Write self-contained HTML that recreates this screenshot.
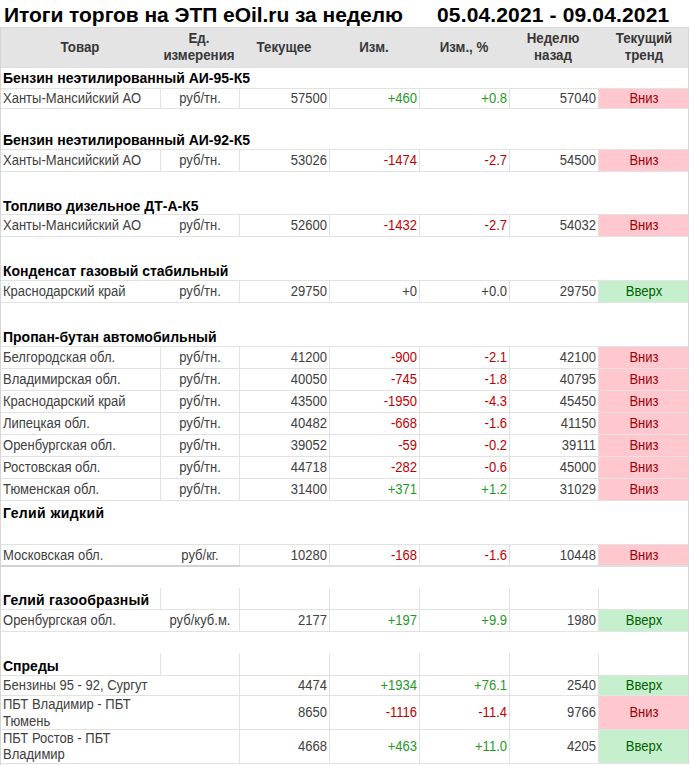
<!DOCTYPE html>
<html><head><meta charset="utf-8"><style>
html,body{margin:0;padding:0;background:#fff;}
body{width:690px;height:765px;overflow:hidden;position:relative;font-family:"Liberation Sans",sans-serif;}
i{position:absolute;display:block;}
b.t{position:absolute;white-space:nowrap;font-weight:normal;font-size:13px;line-height:15px;color:#404040;}
</style></head><body>
<b class="t" style="top:3px;font-size:21px;line-height:23px;left:4px;font-weight:bold;color:#000;letter-spacing:-0.05px;">Итоги торгов на ЭТП eOil.ru за неделю</b>
<b class="t" style="top:3px;font-size:21px;line-height:23px;left:437px;font-weight:bold;color:#000;letter-spacing:0.15px;">05.04.2021 - 09.04.2021</b>
<i style="left:0px;top:27px;width:689px;height:41px;background:#e4e4e4"></i>
<i style="left:0px;top:27px;width:689px;height:1px;background:#d8d8d8"></i>
<i style="left:0px;top:67px;width:689px;height:1px;background:#e0e0e0"></i>
<b class="t" style="top:39px;font-size:14px;line-height:16px;left:-70px;width:300px;text-align:center;font-weight:bold;color:#383838;transform:scaleX(0.95);transform-origin:center 0;">Товар</b>
<b class="t" style="top:39px;font-size:14px;line-height:16px;left:134px;width:300px;text-align:center;font-weight:bold;color:#383838;transform:scaleX(0.95);transform-origin:center 0;">Текущее</b>
<b class="t" style="top:39px;font-size:14px;line-height:16px;left:224px;width:300px;text-align:center;font-weight:bold;color:#383838;transform:scaleX(0.95);transform-origin:center 0;">Изм.</b>
<b class="t" style="top:39px;font-size:14px;line-height:16px;left:314px;width:300px;text-align:center;font-weight:bold;color:#383838;transform:scaleX(0.95);transform-origin:center 0;">Изм., %</b>
<b class="t" style="top:30px;font-size:14px;line-height:16px;left:49px;width:300px;text-align:center;font-weight:bold;color:#383838;transform:scaleX(0.95);transform-origin:center 0;">Ед.</b>
<b class="t" style="top:46.5px;font-size:14px;line-height:16px;left:49px;width:300px;text-align:center;font-weight:bold;color:#383838;transform:scaleX(0.95);transform-origin:center 0;">измерения</b>
<b class="t" style="top:30px;font-size:14px;line-height:16px;left:402.5px;width:300px;text-align:center;font-weight:bold;color:#383838;transform:scaleX(0.95);transform-origin:center 0;">Неделю</b>
<b class="t" style="top:46.5px;font-size:14px;line-height:16px;left:402.5px;width:300px;text-align:center;font-weight:bold;color:#383838;transform:scaleX(0.95);transform-origin:center 0;">назад</b>
<b class="t" style="top:30px;font-size:14px;line-height:16px;left:493.5px;width:300px;text-align:center;font-weight:bold;color:#383838;transform:scaleX(0.95);transform-origin:center 0;">Текущий</b>
<b class="t" style="top:46.5px;font-size:14px;line-height:16px;left:493.5px;width:300px;text-align:center;font-weight:bold;color:#383838;transform:scaleX(0.95);transform-origin:center 0;">тренд</b>
<b class="t" style="top:70px;font-size:14px;line-height:16px;left:3px;font-weight:bold;color:#000;">Бензин неэтилированный АИ-95-К5</b>
<i style="left:0px;top:88px;width:689px;height:1px;background:#e2e2e2"></i>
<i style="left:160px;top:89px;width:1px;height:19px;background:#e2e2e2"></i>
<i style="left:239px;top:89px;width:1px;height:19px;background:#e2e2e2"></i>
<i style="left:329px;top:89px;width:1px;height:19px;background:#e2e2e2"></i>
<i style="left:419px;top:89px;width:1px;height:19px;background:#e2e2e2"></i>
<i style="left:509px;top:89px;width:1px;height:19px;background:#e2e2e2"></i>
<i style="left:598px;top:89px;width:1px;height:19px;background:#e2e2e2"></i>
<i style="left:0px;top:108px;width:689px;height:1px;background:#e2e2e2"></i>
<i style="left:599px;top:89px;width:89px;height:19px;background:#ffc7ce"></i>
<b class="t" style="top:90px;font-size:14px;line-height:16px;left:3px;transform:scaleX(0.93);transform-origin:left 0;">Ханты-Мансийский АО</b>
<b class="t" style="top:90px;font-size:14px;line-height:16px;left:49.5px;width:300px;text-align:center;transform:scaleX(0.93);transform-origin:center 0;">руб/тн.</b>
<b class="t" style="top:90px;font-size:14px;line-height:16px;left:26.5px;width:300px;text-align:right;transform:scaleX(0.93);transform-origin:right 0;">57500</b>
<b class="t" style="top:90px;font-size:14px;line-height:16px;left:116.5px;width:300px;text-align:right;color:#1f9a1f;transform:scaleX(0.93);transform-origin:right 0;">+460</b>
<b class="t" style="top:90px;font-size:14px;line-height:16px;left:206.5px;width:300px;text-align:right;color:#1f9a1f;transform:scaleX(0.93);transform-origin:right 0;">+0.8</b>
<b class="t" style="top:90px;font-size:14px;line-height:16px;left:295.5px;width:300px;text-align:right;transform:scaleX(0.93);transform-origin:right 0;">57040</b>
<b class="t" style="top:90px;font-size:14px;line-height:16px;left:493.5px;width:300px;text-align:center;color:#9c0006;transform:scaleX(0.93);transform-origin:center 0;">Вниз</b>
<b class="t" style="top:132px;font-size:14px;line-height:16px;left:3px;font-weight:bold;color:#000;">Бензин неэтилированный АИ-92-К5</b>
<i style="left:0px;top:149px;width:689px;height:1px;background:#e2e2e2"></i>
<i style="left:160px;top:150px;width:1px;height:21px;background:#e2e2e2"></i>
<i style="left:239px;top:150px;width:1px;height:21px;background:#e2e2e2"></i>
<i style="left:329px;top:150px;width:1px;height:21px;background:#e2e2e2"></i>
<i style="left:419px;top:150px;width:1px;height:21px;background:#e2e2e2"></i>
<i style="left:509px;top:150px;width:1px;height:21px;background:#e2e2e2"></i>
<i style="left:598px;top:150px;width:1px;height:21px;background:#e2e2e2"></i>
<i style="left:0px;top:171px;width:689px;height:1px;background:#e2e2e2"></i>
<i style="left:599px;top:150px;width:89px;height:21px;background:#ffc7ce"></i>
<b class="t" style="top:152px;font-size:14px;line-height:16px;left:3px;transform:scaleX(0.93);transform-origin:left 0;">Ханты-Мансийский АО</b>
<b class="t" style="top:152px;font-size:14px;line-height:16px;left:49.5px;width:300px;text-align:center;transform:scaleX(0.93);transform-origin:center 0;">руб/тн.</b>
<b class="t" style="top:152px;font-size:14px;line-height:16px;left:26.5px;width:300px;text-align:right;transform:scaleX(0.93);transform-origin:right 0;">53026</b>
<b class="t" style="top:152px;font-size:14px;line-height:16px;left:116.5px;width:300px;text-align:right;color:#c40000;transform:scaleX(0.93);transform-origin:right 0;">-1474</b>
<b class="t" style="top:152px;font-size:14px;line-height:16px;left:206.5px;width:300px;text-align:right;color:#c40000;transform:scaleX(0.93);transform-origin:right 0;">-2.7</b>
<b class="t" style="top:152px;font-size:14px;line-height:16px;left:295.5px;width:300px;text-align:right;transform:scaleX(0.93);transform-origin:right 0;">54500</b>
<b class="t" style="top:152px;font-size:14px;line-height:16px;left:493.5px;width:300px;text-align:center;color:#9c0006;transform:scaleX(0.93);transform-origin:center 0;">Вниз</b>
<b class="t" style="top:198px;font-size:14px;line-height:16px;left:3px;font-weight:bold;color:#000;">Топливо дизельное ДТ-А-К5</b>
<i style="left:0px;top:214px;width:689px;height:1px;background:#e2e2e2"></i>
<i style="left:239px;top:215px;width:1px;height:21px;background:#e2e2e2"></i>
<i style="left:329px;top:215px;width:1px;height:21px;background:#e2e2e2"></i>
<i style="left:419px;top:215px;width:1px;height:21px;background:#e2e2e2"></i>
<i style="left:509px;top:215px;width:1px;height:21px;background:#e2e2e2"></i>
<i style="left:598px;top:215px;width:1px;height:21px;background:#e2e2e2"></i>
<i style="left:0px;top:236px;width:689px;height:1px;background:#e2e2e2"></i>
<i style="left:599px;top:215px;width:89px;height:21px;background:#ffc7ce"></i>
<b class="t" style="top:217px;font-size:14px;line-height:16px;left:3px;transform:scaleX(0.93);transform-origin:left 0;">Ханты-Мансийский АО</b>
<b class="t" style="top:217px;font-size:14px;line-height:16px;left:49.5px;width:300px;text-align:center;transform:scaleX(0.93);transform-origin:center 0;">руб/тн.</b>
<b class="t" style="top:217px;font-size:14px;line-height:16px;left:26.5px;width:300px;text-align:right;transform:scaleX(0.93);transform-origin:right 0;">52600</b>
<b class="t" style="top:217px;font-size:14px;line-height:16px;left:116.5px;width:300px;text-align:right;color:#c40000;transform:scaleX(0.93);transform-origin:right 0;">-1432</b>
<b class="t" style="top:217px;font-size:14px;line-height:16px;left:206.5px;width:300px;text-align:right;color:#c40000;transform:scaleX(0.93);transform-origin:right 0;">-2.7</b>
<b class="t" style="top:217px;font-size:14px;line-height:16px;left:295.5px;width:300px;text-align:right;transform:scaleX(0.93);transform-origin:right 0;">54032</b>
<b class="t" style="top:217px;font-size:14px;line-height:16px;left:493.5px;width:300px;text-align:center;color:#9c0006;transform:scaleX(0.93);transform-origin:center 0;">Вниз</b>
<b class="t" style="top:263px;font-size:14px;line-height:16px;left:3px;font-weight:bold;color:#000;">Конденсат газовый стабильный</b>
<i style="left:0px;top:280px;width:689px;height:1px;background:#e2e2e2"></i>
<i style="left:239px;top:281px;width:1px;height:21px;background:#e2e2e2"></i>
<i style="left:329px;top:281px;width:1px;height:21px;background:#e2e2e2"></i>
<i style="left:419px;top:281px;width:1px;height:21px;background:#e2e2e2"></i>
<i style="left:509px;top:281px;width:1px;height:21px;background:#e2e2e2"></i>
<i style="left:598px;top:281px;width:1px;height:21px;background:#e2e2e2"></i>
<i style="left:0px;top:302px;width:689px;height:1px;background:#e2e2e2"></i>
<i style="left:599px;top:281px;width:89px;height:21px;background:#c6efce"></i>
<b class="t" style="top:283px;font-size:14px;line-height:16px;left:3px;transform:scaleX(0.93);transform-origin:left 0;">Краснодарский край</b>
<b class="t" style="top:283px;font-size:14px;line-height:16px;left:49.5px;width:300px;text-align:center;transform:scaleX(0.93);transform-origin:center 0;">руб/тн.</b>
<b class="t" style="top:283px;font-size:14px;line-height:16px;left:26.5px;width:300px;text-align:right;transform:scaleX(0.93);transform-origin:right 0;">29750</b>
<b class="t" style="top:283px;font-size:14px;line-height:16px;left:116.5px;width:300px;text-align:right;transform:scaleX(0.93);transform-origin:right 0;">+0</b>
<b class="t" style="top:283px;font-size:14px;line-height:16px;left:206.5px;width:300px;text-align:right;transform:scaleX(0.93);transform-origin:right 0;">+0.0</b>
<b class="t" style="top:283px;font-size:14px;line-height:16px;left:295.5px;width:300px;text-align:right;transform:scaleX(0.93);transform-origin:right 0;">29750</b>
<b class="t" style="top:283px;font-size:14px;line-height:16px;left:493.5px;width:300px;text-align:center;color:#006100;transform:scaleX(0.93);transform-origin:center 0;">Вверх</b>
<b class="t" style="top:329px;font-size:14px;line-height:16px;left:3px;font-weight:bold;color:#000;">Пропан-бутан автомобильный</b>
<i style="left:0px;top:346px;width:689px;height:1px;background:#e2e2e2"></i>
<i style="left:160px;top:347px;width:1px;height:21px;background:#e2e2e2"></i>
<i style="left:239px;top:347px;width:1px;height:21px;background:#e2e2e2"></i>
<i style="left:329px;top:347px;width:1px;height:21px;background:#e2e2e2"></i>
<i style="left:419px;top:347px;width:1px;height:21px;background:#e2e2e2"></i>
<i style="left:509px;top:347px;width:1px;height:21px;background:#e2e2e2"></i>
<i style="left:598px;top:347px;width:1px;height:21px;background:#e2e2e2"></i>
<i style="left:0px;top:368px;width:689px;height:1px;background:#e2e2e2"></i>
<i style="left:599px;top:347px;width:89px;height:21px;background:#ffc7ce"></i>
<b class="t" style="top:349px;font-size:14px;line-height:16px;left:3px;transform:scaleX(0.93);transform-origin:left 0;">Белгородская обл.</b>
<b class="t" style="top:349px;font-size:14px;line-height:16px;left:49.5px;width:300px;text-align:center;transform:scaleX(0.93);transform-origin:center 0;">руб/тн.</b>
<b class="t" style="top:349px;font-size:14px;line-height:16px;left:26.5px;width:300px;text-align:right;transform:scaleX(0.93);transform-origin:right 0;">41200</b>
<b class="t" style="top:349px;font-size:14px;line-height:16px;left:116.5px;width:300px;text-align:right;color:#c40000;transform:scaleX(0.93);transform-origin:right 0;">-900</b>
<b class="t" style="top:349px;font-size:14px;line-height:16px;left:206.5px;width:300px;text-align:right;color:#c40000;transform:scaleX(0.93);transform-origin:right 0;">-2.1</b>
<b class="t" style="top:349px;font-size:14px;line-height:16px;left:295.5px;width:300px;text-align:right;transform:scaleX(0.93);transform-origin:right 0;">42100</b>
<b class="t" style="top:349px;font-size:14px;line-height:16px;left:493.5px;width:300px;text-align:center;color:#9c0006;transform:scaleX(0.93);transform-origin:center 0;">Вниз</b>
<i style="left:160px;top:369px;width:1px;height:21px;background:#e2e2e2"></i>
<i style="left:239px;top:369px;width:1px;height:21px;background:#e2e2e2"></i>
<i style="left:329px;top:369px;width:1px;height:21px;background:#e2e2e2"></i>
<i style="left:419px;top:369px;width:1px;height:21px;background:#e2e2e2"></i>
<i style="left:509px;top:369px;width:1px;height:21px;background:#e2e2e2"></i>
<i style="left:598px;top:369px;width:1px;height:21px;background:#e2e2e2"></i>
<i style="left:0px;top:390px;width:689px;height:1px;background:#e2e2e2"></i>
<i style="left:599px;top:369px;width:89px;height:21px;background:#ffc7ce"></i>
<b class="t" style="top:371px;font-size:14px;line-height:16px;left:3px;transform:scaleX(0.93);transform-origin:left 0;">Владимирская обл.</b>
<b class="t" style="top:371px;font-size:14px;line-height:16px;left:49.5px;width:300px;text-align:center;transform:scaleX(0.93);transform-origin:center 0;">руб/тн.</b>
<b class="t" style="top:371px;font-size:14px;line-height:16px;left:26.5px;width:300px;text-align:right;transform:scaleX(0.93);transform-origin:right 0;">40050</b>
<b class="t" style="top:371px;font-size:14px;line-height:16px;left:116.5px;width:300px;text-align:right;color:#c40000;transform:scaleX(0.93);transform-origin:right 0;">-745</b>
<b class="t" style="top:371px;font-size:14px;line-height:16px;left:206.5px;width:300px;text-align:right;color:#c40000;transform:scaleX(0.93);transform-origin:right 0;">-1.8</b>
<b class="t" style="top:371px;font-size:14px;line-height:16px;left:295.5px;width:300px;text-align:right;transform:scaleX(0.93);transform-origin:right 0;">40795</b>
<b class="t" style="top:371px;font-size:14px;line-height:16px;left:493.5px;width:300px;text-align:center;color:#9c0006;transform:scaleX(0.93);transform-origin:center 0;">Вниз</b>
<i style="left:160px;top:391px;width:1px;height:21px;background:#e2e2e2"></i>
<i style="left:239px;top:391px;width:1px;height:21px;background:#e2e2e2"></i>
<i style="left:329px;top:391px;width:1px;height:21px;background:#e2e2e2"></i>
<i style="left:419px;top:391px;width:1px;height:21px;background:#e2e2e2"></i>
<i style="left:509px;top:391px;width:1px;height:21px;background:#e2e2e2"></i>
<i style="left:598px;top:391px;width:1px;height:21px;background:#e2e2e2"></i>
<i style="left:0px;top:412px;width:689px;height:1px;background:#e2e2e2"></i>
<i style="left:599px;top:391px;width:89px;height:21px;background:#ffc7ce"></i>
<b class="t" style="top:393px;font-size:14px;line-height:16px;left:3px;transform:scaleX(0.93);transform-origin:left 0;">Краснодарский край</b>
<b class="t" style="top:393px;font-size:14px;line-height:16px;left:49.5px;width:300px;text-align:center;transform:scaleX(0.93);transform-origin:center 0;">руб/тн.</b>
<b class="t" style="top:393px;font-size:14px;line-height:16px;left:26.5px;width:300px;text-align:right;transform:scaleX(0.93);transform-origin:right 0;">43500</b>
<b class="t" style="top:393px;font-size:14px;line-height:16px;left:116.5px;width:300px;text-align:right;color:#c40000;transform:scaleX(0.93);transform-origin:right 0;">-1950</b>
<b class="t" style="top:393px;font-size:14px;line-height:16px;left:206.5px;width:300px;text-align:right;color:#c40000;transform:scaleX(0.93);transform-origin:right 0;">-4.3</b>
<b class="t" style="top:393px;font-size:14px;line-height:16px;left:295.5px;width:300px;text-align:right;transform:scaleX(0.93);transform-origin:right 0;">45450</b>
<b class="t" style="top:393px;font-size:14px;line-height:16px;left:493.5px;width:300px;text-align:center;color:#9c0006;transform:scaleX(0.93);transform-origin:center 0;">Вниз</b>
<i style="left:160px;top:413px;width:1px;height:21px;background:#e2e2e2"></i>
<i style="left:239px;top:413px;width:1px;height:21px;background:#e2e2e2"></i>
<i style="left:329px;top:413px;width:1px;height:21px;background:#e2e2e2"></i>
<i style="left:419px;top:413px;width:1px;height:21px;background:#e2e2e2"></i>
<i style="left:509px;top:413px;width:1px;height:21px;background:#e2e2e2"></i>
<i style="left:598px;top:413px;width:1px;height:21px;background:#e2e2e2"></i>
<i style="left:0px;top:434px;width:689px;height:1px;background:#e2e2e2"></i>
<i style="left:599px;top:413px;width:89px;height:21px;background:#ffc7ce"></i>
<b class="t" style="top:415px;font-size:14px;line-height:16px;left:3px;transform:scaleX(0.93);transform-origin:left 0;">Липецкая обл.</b>
<b class="t" style="top:415px;font-size:14px;line-height:16px;left:49.5px;width:300px;text-align:center;transform:scaleX(0.93);transform-origin:center 0;">руб/тн.</b>
<b class="t" style="top:415px;font-size:14px;line-height:16px;left:26.5px;width:300px;text-align:right;transform:scaleX(0.93);transform-origin:right 0;">40482</b>
<b class="t" style="top:415px;font-size:14px;line-height:16px;left:116.5px;width:300px;text-align:right;color:#c40000;transform:scaleX(0.93);transform-origin:right 0;">-668</b>
<b class="t" style="top:415px;font-size:14px;line-height:16px;left:206.5px;width:300px;text-align:right;color:#c40000;transform:scaleX(0.93);transform-origin:right 0;">-1.6</b>
<b class="t" style="top:415px;font-size:14px;line-height:16px;left:295.5px;width:300px;text-align:right;transform:scaleX(0.93);transform-origin:right 0;">41150</b>
<b class="t" style="top:415px;font-size:14px;line-height:16px;left:493.5px;width:300px;text-align:center;color:#9c0006;transform:scaleX(0.93);transform-origin:center 0;">Вниз</b>
<i style="left:160px;top:435px;width:1px;height:21px;background:#e2e2e2"></i>
<i style="left:239px;top:435px;width:1px;height:21px;background:#e2e2e2"></i>
<i style="left:329px;top:435px;width:1px;height:21px;background:#e2e2e2"></i>
<i style="left:419px;top:435px;width:1px;height:21px;background:#e2e2e2"></i>
<i style="left:509px;top:435px;width:1px;height:21px;background:#e2e2e2"></i>
<i style="left:598px;top:435px;width:1px;height:21px;background:#e2e2e2"></i>
<i style="left:0px;top:456px;width:689px;height:1px;background:#e2e2e2"></i>
<i style="left:599px;top:435px;width:89px;height:21px;background:#ffc7ce"></i>
<b class="t" style="top:437px;font-size:14px;line-height:16px;left:3px;transform:scaleX(0.93);transform-origin:left 0;">Оренбургская обл.</b>
<b class="t" style="top:437px;font-size:14px;line-height:16px;left:49.5px;width:300px;text-align:center;transform:scaleX(0.93);transform-origin:center 0;">руб/тн.</b>
<b class="t" style="top:437px;font-size:14px;line-height:16px;left:26.5px;width:300px;text-align:right;transform:scaleX(0.93);transform-origin:right 0;">39052</b>
<b class="t" style="top:437px;font-size:14px;line-height:16px;left:116.5px;width:300px;text-align:right;color:#c40000;transform:scaleX(0.93);transform-origin:right 0;">-59</b>
<b class="t" style="top:437px;font-size:14px;line-height:16px;left:206.5px;width:300px;text-align:right;color:#c40000;transform:scaleX(0.93);transform-origin:right 0;">-0.2</b>
<b class="t" style="top:437px;font-size:14px;line-height:16px;left:295.5px;width:300px;text-align:right;transform:scaleX(0.93);transform-origin:right 0;">39111</b>
<b class="t" style="top:437px;font-size:14px;line-height:16px;left:493.5px;width:300px;text-align:center;color:#9c0006;transform:scaleX(0.93);transform-origin:center 0;">Вниз</b>
<i style="left:160px;top:457px;width:1px;height:21px;background:#e2e2e2"></i>
<i style="left:239px;top:457px;width:1px;height:21px;background:#e2e2e2"></i>
<i style="left:329px;top:457px;width:1px;height:21px;background:#e2e2e2"></i>
<i style="left:419px;top:457px;width:1px;height:21px;background:#e2e2e2"></i>
<i style="left:509px;top:457px;width:1px;height:21px;background:#e2e2e2"></i>
<i style="left:598px;top:457px;width:1px;height:21px;background:#e2e2e2"></i>
<i style="left:0px;top:478px;width:689px;height:1px;background:#e2e2e2"></i>
<i style="left:599px;top:457px;width:89px;height:21px;background:#ffc7ce"></i>
<b class="t" style="top:459px;font-size:14px;line-height:16px;left:3px;transform:scaleX(0.93);transform-origin:left 0;">Ростовская обл.</b>
<b class="t" style="top:459px;font-size:14px;line-height:16px;left:49.5px;width:300px;text-align:center;transform:scaleX(0.93);transform-origin:center 0;">руб/тн.</b>
<b class="t" style="top:459px;font-size:14px;line-height:16px;left:26.5px;width:300px;text-align:right;transform:scaleX(0.93);transform-origin:right 0;">44718</b>
<b class="t" style="top:459px;font-size:14px;line-height:16px;left:116.5px;width:300px;text-align:right;color:#c40000;transform:scaleX(0.93);transform-origin:right 0;">-282</b>
<b class="t" style="top:459px;font-size:14px;line-height:16px;left:206.5px;width:300px;text-align:right;color:#c40000;transform:scaleX(0.93);transform-origin:right 0;">-0.6</b>
<b class="t" style="top:459px;font-size:14px;line-height:16px;left:295.5px;width:300px;text-align:right;transform:scaleX(0.93);transform-origin:right 0;">45000</b>
<b class="t" style="top:459px;font-size:14px;line-height:16px;left:493.5px;width:300px;text-align:center;color:#9c0006;transform:scaleX(0.93);transform-origin:center 0;">Вниз</b>
<i style="left:160px;top:479px;width:1px;height:21px;background:#e2e2e2"></i>
<i style="left:239px;top:479px;width:1px;height:21px;background:#e2e2e2"></i>
<i style="left:329px;top:479px;width:1px;height:21px;background:#e2e2e2"></i>
<i style="left:419px;top:479px;width:1px;height:21px;background:#e2e2e2"></i>
<i style="left:509px;top:479px;width:1px;height:21px;background:#e2e2e2"></i>
<i style="left:598px;top:479px;width:1px;height:21px;background:#e2e2e2"></i>
<i style="left:0px;top:500px;width:689px;height:1px;background:#e2e2e2"></i>
<i style="left:599px;top:479px;width:89px;height:21px;background:#ffc7ce"></i>
<b class="t" style="top:481px;font-size:14px;line-height:16px;left:3px;transform:scaleX(0.93);transform-origin:left 0;">Тюменская обл.</b>
<b class="t" style="top:481px;font-size:14px;line-height:16px;left:49.5px;width:300px;text-align:center;transform:scaleX(0.93);transform-origin:center 0;">руб/тн.</b>
<b class="t" style="top:481px;font-size:14px;line-height:16px;left:26.5px;width:300px;text-align:right;transform:scaleX(0.93);transform-origin:right 0;">31400</b>
<b class="t" style="top:481px;font-size:14px;line-height:16px;left:116.5px;width:300px;text-align:right;color:#1f9a1f;transform:scaleX(0.93);transform-origin:right 0;">+371</b>
<b class="t" style="top:481px;font-size:14px;line-height:16px;left:206.5px;width:300px;text-align:right;color:#1f9a1f;transform:scaleX(0.93);transform-origin:right 0;">+1.2</b>
<b class="t" style="top:481px;font-size:14px;line-height:16px;left:295.5px;width:300px;text-align:right;transform:scaleX(0.93);transform-origin:right 0;">31029</b>
<b class="t" style="top:481px;font-size:14px;line-height:16px;left:493.5px;width:300px;text-align:center;color:#9c0006;transform:scaleX(0.93);transform-origin:center 0;">Вниз</b>
<b class="t" style="top:505px;font-size:14px;line-height:16px;left:3px;font-weight:bold;color:#000;letter-spacing:0.4px;">Гелий жидкий</b>
<i style="left:0px;top:544px;width:689px;height:1px;background:#e2e2e2"></i>
<i style="left:239px;top:545px;width:1px;height:20px;background:#e2e2e2"></i>
<i style="left:329px;top:545px;width:1px;height:20px;background:#e2e2e2"></i>
<i style="left:419px;top:545px;width:1px;height:20px;background:#e2e2e2"></i>
<i style="left:509px;top:545px;width:1px;height:20px;background:#e2e2e2"></i>
<i style="left:598px;top:545px;width:1px;height:20px;background:#e2e2e2"></i>
<i style="left:0px;top:565px;width:689px;height:1px;background:#e2e2e2"></i>
<i style="left:599px;top:545px;width:89px;height:20px;background:#ffc7ce"></i>
<b class="t" style="top:547px;font-size:14px;line-height:16px;left:3px;transform:scaleX(0.93);transform-origin:left 0;">Московская обл.</b>
<b class="t" style="top:547px;font-size:14px;line-height:16px;left:49.5px;width:300px;text-align:center;transform:scaleX(0.93);transform-origin:center 0;">руб/кг.</b>
<b class="t" style="top:547px;font-size:14px;line-height:16px;left:26.5px;width:300px;text-align:right;transform:scaleX(0.93);transform-origin:right 0;">10280</b>
<b class="t" style="top:547px;font-size:14px;line-height:16px;left:116.5px;width:300px;text-align:right;color:#c40000;transform:scaleX(0.93);transform-origin:right 0;">-168</b>
<b class="t" style="top:547px;font-size:14px;line-height:16px;left:206.5px;width:300px;text-align:right;color:#c40000;transform:scaleX(0.93);transform-origin:right 0;">-1.6</b>
<b class="t" style="top:547px;font-size:14px;line-height:16px;left:295.5px;width:300px;text-align:right;transform:scaleX(0.93);transform-origin:right 0;">10448</b>
<b class="t" style="top:547px;font-size:14px;line-height:16px;left:493.5px;width:300px;text-align:center;color:#9c0006;transform:scaleX(0.93);transform-origin:center 0;">Вниз</b>
<i style="left:0px;top:565px;width:240px;height:2px;background:#d2d2d2"></i>
<i style="left:240px;top:565px;width:449px;height:2px;background:#e0e0e0"></i>
<i style="left:160px;top:588px;width:1px;height:21px;background:#e2e2e2"></i>
<i style="left:239px;top:588px;width:1px;height:21px;background:#e2e2e2"></i>
<i style="left:329px;top:588px;width:1px;height:21px;background:#e2e2e2"></i>
<i style="left:419px;top:588px;width:1px;height:21px;background:#e2e2e2"></i>
<i style="left:509px;top:588px;width:1px;height:21px;background:#e2e2e2"></i>
<i style="left:598px;top:588px;width:1px;height:21px;background:#e2e2e2"></i>
<b class="t" style="top:592px;font-size:14px;line-height:16px;left:3px;font-weight:bold;color:#000;letter-spacing:0.15px;">Гелий газообразный</b>
<i style="left:0px;top:609px;width:689px;height:1px;background:#e2e2e2"></i>
<i style="left:239px;top:610px;width:1px;height:21px;background:#e2e2e2"></i>
<i style="left:329px;top:610px;width:1px;height:21px;background:#e2e2e2"></i>
<i style="left:419px;top:610px;width:1px;height:21px;background:#e2e2e2"></i>
<i style="left:509px;top:610px;width:1px;height:21px;background:#e2e2e2"></i>
<i style="left:598px;top:610px;width:1px;height:21px;background:#e2e2e2"></i>
<i style="left:0px;top:631px;width:689px;height:1px;background:#e2e2e2"></i>
<i style="left:599px;top:610px;width:89px;height:21px;background:#c6efce"></i>
<b class="t" style="top:612px;font-size:14px;line-height:16px;left:3px;transform:scaleX(0.93);transform-origin:left 0;">Оренбургская обл.</b>
<b class="t" style="top:612px;font-size:14px;line-height:16px;left:49.5px;width:300px;text-align:center;transform:scaleX(0.93);transform-origin:center 0;">руб/куб.м.</b>
<b class="t" style="top:612px;font-size:14px;line-height:16px;left:26.5px;width:300px;text-align:right;transform:scaleX(0.93);transform-origin:right 0;">2177</b>
<b class="t" style="top:612px;font-size:14px;line-height:16px;left:116.5px;width:300px;text-align:right;color:#1f9a1f;transform:scaleX(0.93);transform-origin:right 0;">+197</b>
<b class="t" style="top:612px;font-size:14px;line-height:16px;left:206.5px;width:300px;text-align:right;color:#1f9a1f;transform:scaleX(0.93);transform-origin:right 0;">+9.9</b>
<b class="t" style="top:612px;font-size:14px;line-height:16px;left:295.5px;width:300px;text-align:right;transform:scaleX(0.93);transform-origin:right 0;">1980</b>
<b class="t" style="top:612px;font-size:14px;line-height:16px;left:493.5px;width:300px;text-align:center;color:#006100;transform:scaleX(0.93);transform-origin:center 0;">Вверх</b>
<i style="left:160px;top:653px;width:1px;height:22px;background:#e2e2e2"></i>
<i style="left:239px;top:653px;width:1px;height:22px;background:#e2e2e2"></i>
<i style="left:329px;top:653px;width:1px;height:22px;background:#e2e2e2"></i>
<i style="left:419px;top:653px;width:1px;height:22px;background:#e2e2e2"></i>
<i style="left:509px;top:653px;width:1px;height:22px;background:#e2e2e2"></i>
<i style="left:598px;top:653px;width:1px;height:22px;background:#e2e2e2"></i>
<b class="t" style="top:658px;font-size:14px;line-height:16px;left:3px;font-weight:bold;color:#000;">Спреды</b>
<i style="left:0px;top:675px;width:689px;height:1px;background:#e2e2e2"></i>
<i style="left:239px;top:676px;width:1px;height:19px;background:#e2e2e2"></i>
<i style="left:329px;top:676px;width:1px;height:19px;background:#e2e2e2"></i>
<i style="left:419px;top:676px;width:1px;height:19px;background:#e2e2e2"></i>
<i style="left:509px;top:676px;width:1px;height:19px;background:#e2e2e2"></i>
<i style="left:598px;top:676px;width:1px;height:19px;background:#e2e2e2"></i>
<i style="left:0px;top:695px;width:689px;height:1px;background:#e2e2e2"></i>
<i style="left:599px;top:676px;width:89px;height:19px;background:#c6efce"></i>
<b class="t" style="top:677px;font-size:14px;line-height:16px;left:3px;transform:scaleX(0.93);transform-origin:left 0;">Бензины 95 - 92, Сургут</b>
<b class="t" style="top:677px;font-size:14px;line-height:16px;left:26.5px;width:300px;text-align:right;transform:scaleX(0.93);transform-origin:right 0;">4474</b>
<b class="t" style="top:677px;font-size:14px;line-height:16px;left:116.5px;width:300px;text-align:right;color:#1f9a1f;transform:scaleX(0.93);transform-origin:right 0;">+1934</b>
<b class="t" style="top:677px;font-size:14px;line-height:16px;left:206.5px;width:300px;text-align:right;color:#1f9a1f;transform:scaleX(0.93);transform-origin:right 0;">+76.1</b>
<b class="t" style="top:677px;font-size:14px;line-height:16px;left:295.5px;width:300px;text-align:right;transform:scaleX(0.93);transform-origin:right 0;">2540</b>
<b class="t" style="top:677px;font-size:14px;line-height:16px;left:493.5px;width:300px;text-align:center;color:#006100;transform:scaleX(0.93);transform-origin:center 0;">Вверх</b>
<i style="left:239px;top:696px;width:1px;height:33px;background:#e2e2e2"></i>
<i style="left:329px;top:696px;width:1px;height:33px;background:#e2e2e2"></i>
<i style="left:419px;top:696px;width:1px;height:33px;background:#e2e2e2"></i>
<i style="left:509px;top:696px;width:1px;height:33px;background:#e2e2e2"></i>
<i style="left:598px;top:696px;width:1px;height:33px;background:#e2e2e2"></i>
<i style="left:0px;top:729px;width:689px;height:1px;background:#e2e2e2"></i>
<i style="left:599px;top:696px;width:89px;height:33px;background:#ffc7ce"></i>
<b class="t" style="top:696px;font-size:14px;line-height:16px;left:3px;transform:scaleX(0.93);transform-origin:left 0;">ПБТ Владимир - ПБТ</b>
<b class="t" style="top:713px;font-size:14px;line-height:16px;left:3px;transform:scaleX(0.93);transform-origin:left 0;">Тюмень</b>
<b class="t" style="top:704px;font-size:14px;line-height:16px;left:26.5px;width:300px;text-align:right;transform:scaleX(0.93);transform-origin:right 0;">8650</b>
<b class="t" style="top:704px;font-size:14px;line-height:16px;left:116.5px;width:300px;text-align:right;color:#c40000;transform:scaleX(0.93);transform-origin:right 0;">-1116</b>
<b class="t" style="top:704px;font-size:14px;line-height:16px;left:206.5px;width:300px;text-align:right;color:#c40000;transform:scaleX(0.93);transform-origin:right 0;">-11.4</b>
<b class="t" style="top:704px;font-size:14px;line-height:16px;left:295.5px;width:300px;text-align:right;transform:scaleX(0.93);transform-origin:right 0;">9766</b>
<b class="t" style="top:704px;font-size:14px;line-height:16px;left:493.5px;width:300px;text-align:center;color:#9c0006;transform:scaleX(0.93);transform-origin:center 0;">Вниз</b>
<i style="left:239px;top:730px;width:1px;height:33px;background:#e2e2e2"></i>
<i style="left:329px;top:730px;width:1px;height:33px;background:#e2e2e2"></i>
<i style="left:419px;top:730px;width:1px;height:33px;background:#e2e2e2"></i>
<i style="left:509px;top:730px;width:1px;height:33px;background:#e2e2e2"></i>
<i style="left:598px;top:730px;width:1px;height:33px;background:#e2e2e2"></i>
<i style="left:0px;top:763px;width:689px;height:1px;background:#e2e2e2"></i>
<i style="left:599px;top:730px;width:89px;height:33px;background:#c6efce"></i>
<b class="t" style="top:729.5px;font-size:14px;line-height:16px;left:3px;transform:scaleX(0.93);transform-origin:left 0;">ПБТ Ростов - ПБТ</b>
<b class="t" style="top:746px;font-size:14px;line-height:16px;left:3px;transform:scaleX(0.93);transform-origin:left 0;">Владимир</b>
<b class="t" style="top:738px;font-size:14px;line-height:16px;left:26.5px;width:300px;text-align:right;transform:scaleX(0.93);transform-origin:right 0;">4668</b>
<b class="t" style="top:738px;font-size:14px;line-height:16px;left:116.5px;width:300px;text-align:right;color:#1f9a1f;transform:scaleX(0.93);transform-origin:right 0;">+463</b>
<b class="t" style="top:738px;font-size:14px;line-height:16px;left:206.5px;width:300px;text-align:right;color:#1f9a1f;transform:scaleX(0.93);transform-origin:right 0;">+11.0</b>
<b class="t" style="top:738px;font-size:14px;line-height:16px;left:295.5px;width:300px;text-align:right;transform:scaleX(0.93);transform-origin:right 0;">4205</b>
<b class="t" style="top:738px;font-size:14px;line-height:16px;left:493.5px;width:300px;text-align:center;color:#006100;transform:scaleX(0.93);transform-origin:center 0;">Вверх</b>
<i style="left:0px;top:27px;width:1px;height:738px;background:#d6d6d6"></i>
<i style="left:688px;top:27px;width:1px;height:737px;background:#d6d6d6"></i>
</body></html>
